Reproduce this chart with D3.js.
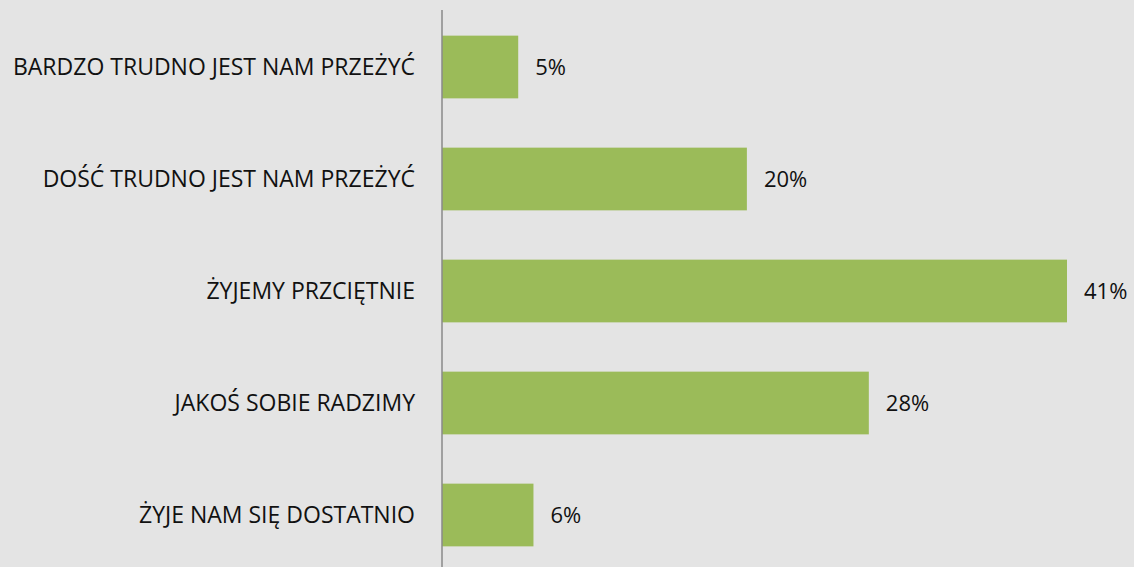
<!DOCTYPE html>
<html><head><meta charset="utf-8">
<script src="https://cdn.jsdelivr.net/npm/d3@7"></script>
<style>
html,body{margin:0;padding:0;background:#e4e4e4;}
svg{display:block;}
</style></head>
<body>
<script>
const categories = ["BARDZO TRUDNO JEST NAM PRZEŻYĆ","DOŚĆ TRUDNO JEST NAM PRZEŻYĆ","ŻYJEMY PRZCIĘTNIE","JAKOŚ SOBIE RADZIMY","ŻYJE NAM SIĘ DOSTATNIO"];
const values = [5,20,41,28,6];
const valueLabels = ["5%","20%","41%","28%","6%"];

const W=1134,H=567;
const svg=d3.select("body").append("svg").attr("width",W).attr("height",H);
svg.append("rect").attr("width",W).attr("height",H).attr("fill","#e4e4e4");

const x0=442;
const x=d3.scaleLinear().domain([0,41]).range([x0,x0+625]);
const y=d3.scaleBand().domain(categories).range([11,571]).paddingInner(0.44).paddingOuter(0.22);

svg.selectAll("rect.bar").data(values).enter().append("rect")
 .attr("class","bar")
 .attr("x",x(0)).attr("y",(d,i)=>y(categories[i]))
 .attr("width",d=>x(d)-x(0)).attr("height",y.bandwidth())
 .attr("fill","#9bbb59");

const axis=svg.append("g").attr("transform",`translate(${x0},0)`)
 .call(d3.axisLeft(y).tickSize(0).tickPadding(27));
axis.select(".domain").remove();
axis.append("line").attr("x1",0).attr("x2",0).attr("y1",10).attr("y2",H).attr("stroke","#8a8a8a").attr("stroke-width",1.5);
axis.selectAll(".tick text").attr("font-family","Open Sans").attr("font-size",23).attr("fill","#111").attr("dy","0.36em");

svg.selectAll("text.val").data(values).enter().append("text")
 .attr("class","val")
 .attr("x",d=>x(d)+17)
 .attr("y",(d,i)=>y(categories[i])+y.bandwidth()/2)
 .attr("dy","0.36em")
 .attr("font-family","Open Sans").attr("font-size",22).attr("fill","#111")
 .text((d,i)=>valueLabels[i]);
</script>
</body></html>
